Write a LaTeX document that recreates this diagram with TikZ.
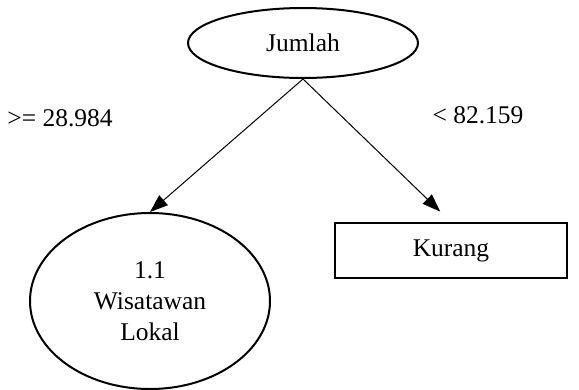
\documentclass[tikz,border=0pt]{standalone}
\usepackage{fontspec}
\setmainfont{Liberation Serif}
\usetikzlibrary{shapes.geometric,arrows.meta}
\begin{document}
\begin{tikzpicture}[x=1pt,y=-1pt,
  every node/.style={font=\fontsize{25.5}{31}\selectfont},
  oval/.style={draw,ellipse,line width=2pt,inner sep=0pt},
  leaf/.style={draw,rectangle,line width=2pt,inner sep=0pt},
  conn/.style={line width=1pt,-{Triangle[length=18pt,width=13pt]}}]
\useasboundingbox (0,0) rectangle (579,389);
\node[oval,minimum width=230pt,minimum height=70pt] (J) at (303,43) {Jumlah};
\node[oval,minimum width=240pt,minimum height=176pt,align=center] (L) at (150,301) {1.1\\Wisatawan\\Lokal};
\node[leaf,minimum width=232pt,minimum height=55pt] (K) at (451,250.5) {Kurang};
\node (lg) at (60,118) {>= 28.984};
\node (lk) at (478,115) {< 82.159};
\draw[conn] (J.south) -- (L.north);
\draw[conn,shorten >=15pt] (J.south) -- (K.north);
\end{tikzpicture}
\end{document}
